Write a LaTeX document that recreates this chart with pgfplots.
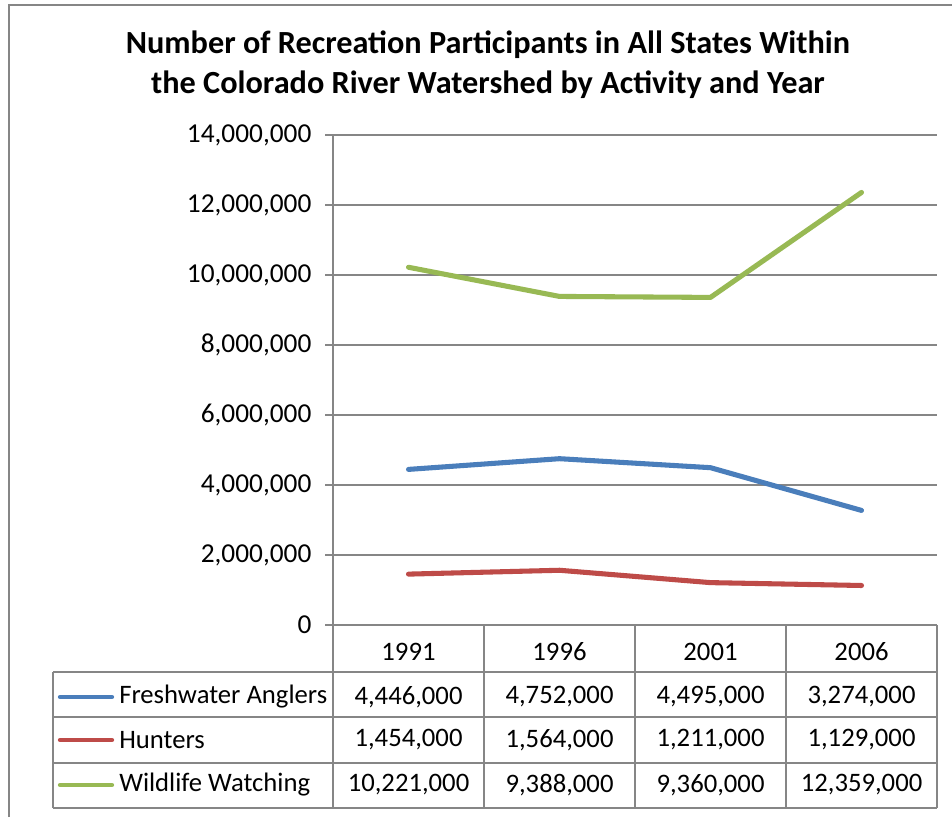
\documentclass[border=0pt]{standalone}
\usepackage{fontspec}
\setmainfont{Carlito}
\usepackage{pgfplots}
\pgfplotsset{compat=1.18}
\definecolor{cBlue}{RGB}{74,126,187}
\definecolor{cRed}{RGB}{190,75,72}
\definecolor{cGreen}{RGB}{152,185,84}
\definecolor{gridgray}{RGB}{134,134,134}
\begin{document}
\begin{tikzpicture}[x=0.75pt,y=-0.75pt]
\useasboundingbox (0,0) rectangle (952,817);
\draw[gridgray, line width=1.1pt] (9,817) -- (9,5) -- (952,5);
\node[font=\fontsize{24.2}{30}\selectfont\bfseries, align=center, inner sep=0pt] at (488,65)
  {Number of Recreation Participants in All States Within\\the Colorado River Watershed by Activity and Year};
\begin{axis}[
  at={(249.75pt,-468.75pt)}, anchor=south west,
  scale only axis, width=453pt, height=367.5pt,
  xmin=-0.5, xmax=3.5, ymin=0, ymax=14000000,
  xtick=\empty,
  ytick={0,2000000,4000000,6000000,8000000,10000000,12000000,14000000},
  scaled y ticks=false,
  axis lines=left,
  axis line style={-, draw=gridgray, line width=0.9pt},
  ymajorgrids, grid style={gridgray, line width=0.9pt},
  tick align=outside, major tick length=6pt,
  tick style={gridgray, line width=0.9pt},
  yticklabel style={/pgf/number format/fixed, /pgf/number format/1000 sep={,},
    /pgf/number format/assume math mode=true, font=\fontsize{20.5}{20.5}\selectfont, inner sep=0pt, xshift=-10pt},
  clip=false,
]
\addplot[cBlue, line width=3.8pt, line cap=round, line join=round] coordinates {(0,4446000)(1,4752000)(2,4495000)(3,3274000)};
\addplot[cRed, line width=3.8pt, line cap=round, line join=round] coordinates {(0,1454000)(1,1564000)(2,1211000)(3,1129000)};
\addplot[cGreen, line width=3.8pt, line cap=round, line join=round] coordinates {(0,10221000)(1,9388000)(2,9360000)(3,12359000)};
\end{axis}
\begin{scope}[gridgray, line width=0.9pt]
\draw (333,625)--(333,808) (484,625)--(484,808) (635,625)--(635,808) (786,625)--(786,808) (937,625)--(937,808);
\draw (53,672)--(937,672) (53,717)--(937,717) (53,763)--(937,763) (53,808)--(937,808) (53,672)--(53,808);
\end{scope}
\begin{scope}[every node/.style={font=\fontsize{20}{20}\selectfont, inner sep=0pt}]
\node at (408.5,652) {1991};
\node at (559.5,652) {1996};
\node at (710.5,652) {2001};
\node at (861.5,652) {2006};
\node[anchor=west] at (119,697) {Freshwater Anglers};
\node[anchor=west] at (119,740) {Hunters};
\node[anchor=west] at (119,785) {Wildlife Watching};
\node at (408.5,697) {4,446,000};
\node at (559.5,697) {4,752,000};
\node at (710.5,697) {4,495,000};
\node at (861.5,697) {3,274,000};
\node at (408.5,740) {1,454,000};
\node at (559.5,740) {1,564,000};
\node at (710.5,740) {1,211,000};
\node at (861.5,740) {1,129,000};
\node at (408.5,785) {10,221,000};
\node at (559.5,785) {9,388,000};
\node at (710.5,785) {9,360,000};
\node at (861.5,785) {12,359,000};
\end{scope}
\draw[cBlue, line width=3.2pt, line cap=round] (60,697)--(112,697);
\draw[cRed, line width=3.2pt, line cap=round] (60,740)--(112,740);
\draw[cGreen, line width=3.2pt, line cap=round] (60,785)--(112,785);
\end{tikzpicture}
\end{document}
